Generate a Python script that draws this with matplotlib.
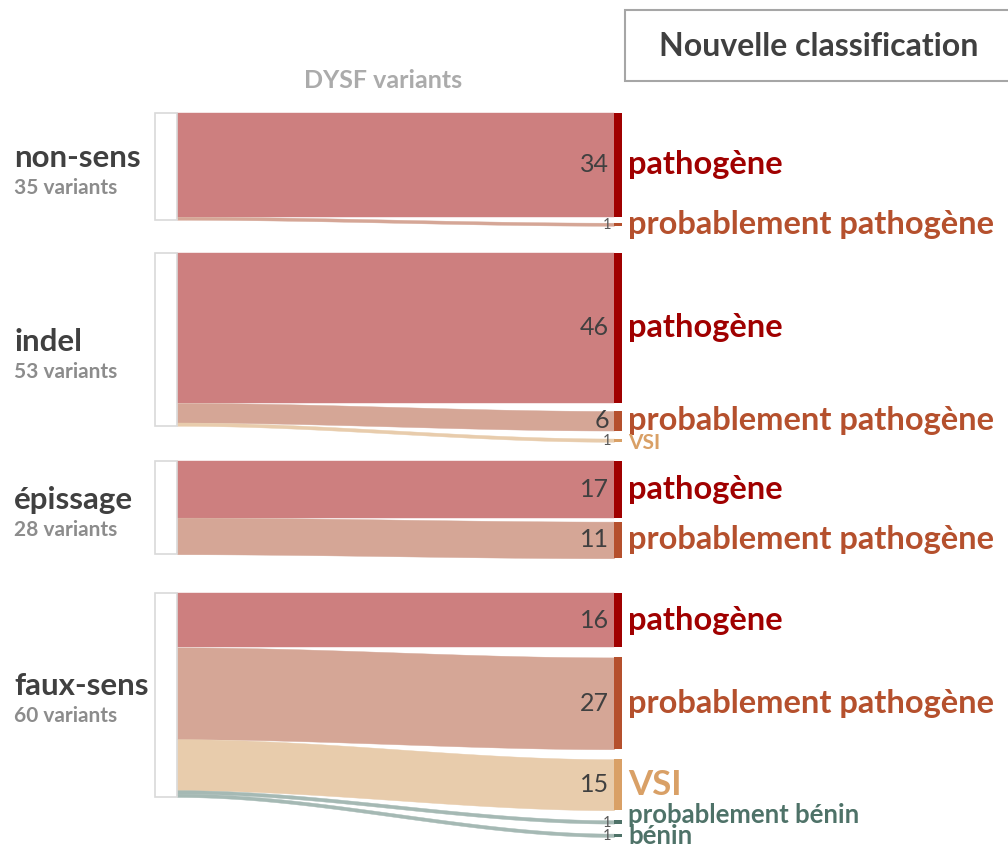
import numpy as np
import matplotlib.pyplot as plt
from matplotlib.patches import Rectangle

plt.rcParams['font.family'] = ['Lato', 'DejaVu Sans']

# data
groups = ['non-sens', 'indel', 'épissage', 'faux-sens']
classes = ['pathogène', 'probablement pathogène', 'VSI', 'probablement bénin', 'bénin']
counts_non_sens = [34, 1, 0, 0, 0]
counts_indel = [46, 6, 1, 0, 0]
counts_epissage = [17, 11, 0, 0, 0]
counts_faux_sens = [16, 27, 15, 1, 1]
counts = [counts_non_sens, counts_indel, counts_epissage, counts_faux_sens]

# layout (pixels)
group_top = [113, 253, 461, 593]
group_scale = [3.05, 3.26, 3.33, 3.4]
right_gap = [6, 8, 4, 10]
label_dy = [-8, 3, -8, -9]
x_left0, x_left1 = 155, 177
x_right0, x_right1 = 614, 622

flow_colors = ['#CD7F7F', '#D5A696', '#E8CCAC', '#A5B9B4', '#A5B9B4']
node_colors = ['#A00000', '#B5502D', '#D9A066', '#4E7268', '#4E7268']
label_sizes = [23.5, 23.5, 25, 18.5, 18.5]
label_shift = [0, 0, 3, -7, 1]

fig = plt.figure(figsize=(10.08, 8.48), dpi=100)
ax = fig.add_axes([0, 0, 1, 1])
ax.set_xlim(0, 1008)
ax.set_ylim(848, 0)
ax.axis('off')


def flow(yl0, yl1, yr0, yr1, color):
    # ribbon between left stack and right node, smoothstep curve
    x = np.linspace(x_left1, x_right0, 120)
    t = (x - x_left1) / (x_right0 - x_left1)
    s = t * t * (3 - 2 * t)
    top = yl0 + (yr0 - yl0) * s
    bot = yl1 + (yr1 - yl1) * s
    ax.fill_between(x, top, bot, color=color, lw=0.3, ec=color, zorder=2)


for g, name in enumerate(groups):
    c = counts[g]
    sc = group_scale[g]
    total = sum(c)
    top = group_top[g]
    h = total * sc
    ax.add_patch(Rectangle((x_left0, top), x_left1 - x_left0, h,
                           fc='white', ec='#D9D9D9', lw=1.2, zorder=3))
    cy = top + h / 2 + label_dy[g]
    ax.text(14, cy, name, fontsize=22.5, fontweight='bold', color='#404040',
            ha='left', va='center')
    ax.text(14, cy + 30, f'{total} variants', fontsize=15, fontweight='bold',
            color='#8C8C8C', ha='left', va='center')

    yl = top
    yr = top
    for k, n in enumerate(c):
        if n == 0:
            continue
        hh = n * sc
        flow(yl, yl + hh, yr, yr + hh, flow_colors[k])
        ax.add_patch(Rectangle((x_right0, yr), x_right1 - x_right0, hh,
                               fc=node_colors[k], ec='none', zorder=3))
        ym = yr + hh / 2
        if n == 1:
            ax.text(611, ym + 1, str(n), fontsize=10.5, color='#595959',
                    ha='right', va='center')
            fs = label_sizes[k] if not (k == 2 and g == 1) else 15
            dy = label_shift[k]
        else:
            ax.text(609, ym, str(n), fontsize=18, color='#404040',
                    ha='right', va='center')
            fs = label_sizes[k]
            dy = 0
        ax.text(628, ym + dy, classes[k], fontsize=fs, fontweight='bold',
                color=node_colors[k], ha='left', va='center')
        yl += hh
        yr += hh + right_gap[g]

ax.text(383, 81, 'DYSF variants', fontsize=18, fontweight='bold',
        color='#ABABAB', ha='center', va='center')
ax.add_patch(Rectangle((625, 10), 400, 71, fc='white', ec='#A6A6A6', lw=1.5,
                       clip_on=True))
ax.text(819, 46, 'Nouvelle classification', fontsize=23, fontweight='bold',
        color='#404040', ha='center', va='center')

fig.savefig('out.png', dpi=100)
